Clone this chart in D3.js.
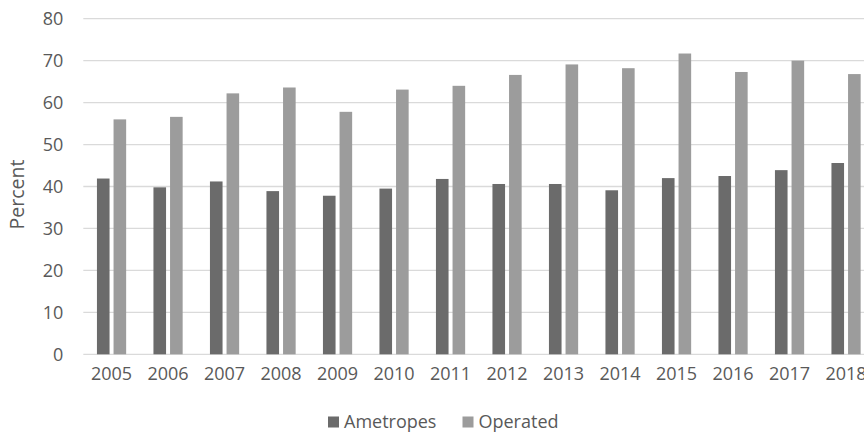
<!DOCTYPE html>
<html>
<head>
<meta charset="utf-8">
<script src="https://cdn.jsdelivr.net/npm/d3@7"></script>
<style>
  html, body { margin: 0; padding: 0; background: #fff; }
  svg { display: block; font-family: "Open Sans", "Liberation Sans", sans-serif; }
</style>
</head>
<body>
<svg id="chart" width="864" height="433"></svg>
<script>
// Yearly percentages
const years = ["2005","2006","2007","2008","2009","2010","2011","2012","2013","2014","2015","2016","2017","2018"];
const ametropes = [41.9, 39.8, 41.2, 38.9, 37.8, 39.5, 41.8, 40.6, 40.6, 39.1, 42.0, 42.5, 43.9, 45.6];
const operated  = [56.0, 56.6, 62.2, 63.6, 57.8, 63.1, 64.0, 66.6, 69.1, 68.2, 71.7, 67.3, 70.0, 66.8];
const seriesNames = ["Ametropes", "Operated"];
const yTicks = [0, 10, 20, 30, 40, 50, 60, 70, 80];

const colors = { Ametropes: "#6b6b6b", Operated: "#9c9c9c" };
const textColor = "#595959";
const fontSize = "18px";

const svg = d3.select("#chart");
const plot = { left: 83.3, right: 874.3, top: 18.7, bottom: 354.3 };

const x = d3.scaleBand().domain(years).range([plot.left, plot.right]).paddingInner(0).paddingOuter(0);
const y = d3.scaleLinear().domain([0, 80]).range([plot.bottom, plot.top]);

// Gridlines
svg.append("g")
  .selectAll("line")
  .data(yTicks)
  .join("line")
  .attr("x1", plot.left).attr("x2", plot.right)
  .attr("y1", d => y(d)).attr("y2", d => y(d))
  .attr("stroke", "#dadada").attr("stroke-width", 1.3);

// Y axis labels
const yAxis = d3.axisLeft(y).tickValues(yTicks).tickSize(0).tickPadding(0);
const yg = svg.append("g").attr("transform", `translate(${plot.left - 20},0)`).call(yAxis);
yg.select(".domain").remove();
yg.selectAll("text").attr("fill", textColor).style("font-size", fontSize)
  .style("font-family", '"Open Sans", sans-serif');

// X axis labels
const xAxis = d3.axisBottom(x).tickSize(0).tickPadding(0);
const xg = svg.append("g").attr("transform", `translate(0,${plot.bottom + 13})`).call(xAxis);
xg.select(".domain").remove();
xg.selectAll("text").attr("fill", textColor).style("font-size", fontSize)
  .style("font-family", '"Open Sans", sans-serif');

// Bars
const barW = 12.6, innerGap = 4;
const groupW = barW * 2 + innerGap;
const rows = years.map((yr, i) => ({ year: yr, Ametropes: ametropes[i], Operated: operated[i] }));
const groups = svg.append("g").selectAll("g")
  .data(rows)
  .join("g")
  .attr("transform", d => `translate(${x(d.year) + x.bandwidth() / 2 - groupW / 2},0)`);

groups.selectAll("rect")
  .data(d => seriesNames.map((s, j) => ({ s, j, v: d[s] })))
  .join("rect")
  .attr("x", d => d.j * (barW + innerGap))
  .attr("width", barW)
  .attr("y", d => y(d.v))
  .attr("height", d => y(0) - y(d.v))
  .attr("fill", d => colors[d.s]);

// Y axis title
svg.append("text")
  .attr("transform", `translate(24,${(plot.top + plot.bottom) / 2 + 8}) rotate(-90)`)
  .attr("text-anchor", "middle")
  .attr("fill", textColor)
  .style("font-size", "19.5px")
  .text("Percent");

// Legend
const legend = svg.append("g").attr("transform", "translate(328,422)");
const legendX = [0, 134.5];
seriesNames.forEach((s, i) => {
  const g = legend.append("g").attr("transform", `translate(${legendX[i]},0)`);
  g.append("rect").attr("x", 0).attr("y", -5.5).attr("width", 11).attr("height", 11).attr("fill", colors[s]);
  g.append("text").attr("x", 16).attr("y", 0).attr("dy", "0.35em")
    .attr("fill", textColor).style("font-size", fontSize).text(s);
});
</script>
</body>
</html>
